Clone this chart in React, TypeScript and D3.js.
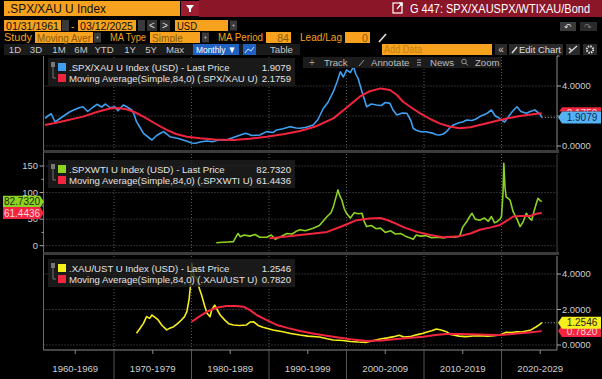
import React from "react";
import * as d3 from "d3";

// ---------- DATA ----------
const decadeLabels = ["1960-1969", "1970-1979", "1980-1989", "1990-1999", "2000-2009", "2010-2019", "2020-2029"];
const decadeStarts = [1960, 1970, 1980, 1990, 2000, 2010, 2020];

const spxXauYears = [1961.1,1961.6,1961.9,1962.4,1962.8,1963.5,1964.2,1964.8,1965.5,1966.0,1966.6,1967.2,1967.8,1968.4,1968.9,1969.5,1970.1,1970.5,1971.2,1971.7,1972.3,1972.6,1972.9,1973.4,1973.8,1974.4,1974.9,1975.5,1976.0,1976.4,1976.8,1977.2,1977.8,1978.3,1978.9,1979.5,1980.0,1980.5,1981.0,1981.5,1982.0,1982.7,1983.5,1984.5,1985.3,1986.3,1987.0,1987.8,1988.8,1989.7,1990.5,1991.0,1991.8,1992.7,1993.5,1994.0,1994.8,1995.7,1996.3,1997.0,1997.6,1998.3,1998.8,1999.2,1999.6,2000.0,2000.5,2000.9,2001.2,2001.5,2002.0,2002.6,2003.2,2003.9,2004.5,2005.0,2005.6,2006.0,2006.5,2007.2,2007.8,2008.3,2008.6,2009.0,2009.5,2010.3,2011.2,2011.6,2012.0,2012.5,2012.9,2013.4,2013.8,2014.5,2015.0,2015.5,2016.2,2016.7,2017.2,2017.8,2018.2,2018.7,2019.2,2019.6,2020.0,2020.4,2020.9,2021.4,2022.0,2022.5,2023.2,2023.7,2024.3,2024.8,2025.0,2025.2];
const spxXauValues = [1.85,2.05,2.15,1.6,1.75,2.0,2.25,2.4,2.55,2.62,2.3,2.55,2.78,2.6,2.8,2.55,2.62,2.35,2.73,2.6,2.4,2.1,1.62,1.2,0.84,0.6,0.4,0.7,0.85,0.96,0.8,0.62,0.55,0.5,0.4,0.3,0.2,0.18,0.25,0.3,0.33,0.28,0.4,0.4,0.55,0.73,0.85,0.7,0.73,0.96,0.9,1.07,1.15,1.29,1.2,1.18,1.25,1.4,1.75,2.5,2.9,3.62,4.3,4.95,4.6,5.07,4.9,5.29,4.8,4.5,3.62,2.62,2.8,2.73,2.7,2.9,2.84,2.4,2.07,2.2,2.18,1.7,1.18,1.05,0.96,0.95,0.84,0.75,0.73,0.8,0.96,1.25,1.4,1.55,1.6,1.73,1.7,1.8,1.96,2.1,2.2,2.4,2.0,1.9,1.73,1.6,1.96,2.3,2.62,2.3,2.18,2.3,2.4,2.2,2.1,1.9079];
const spxXauMaYears = [1961.1,1963,1966,1968,1969.5,1970.5,1971.6,1972.7,1973.8,1975.3,1976.8,1978,1979.4,1981.1,1983,1985.4,1987.5,1989.7,1992,1994,1996,1998.3,2000,2001.7,2003,2004.4,2005.6,2006.5,2007.3,2008.4,2009.5,2010.8,2012,2013.3,2014.6,2016,2017.2,2018.5,2019.8,2021,2022.4,2023.8,2025.2];
const spxXauMaValues = [1.4,1.6,1.96,2.3,2.5,2.53,2.45,2.25,1.96,1.5,1.07,0.8,0.62,0.51,0.43,0.4,0.48,0.62,0.8,1.0,1.3,1.84,2.55,3.29,3.65,3.84,3.73,3.4,2.95,2.55,2.18,1.8,1.51,1.3,1.18,1.25,1.4,1.57,1.73,1.87,2.0,2.1,2.1759];

const spxWtiYears = [1983.2,1984,1984.7,1985.4,1986.0,1986.3,1986.8,1987.5,1988.2,1988.8,1989.7,1990.3,1990.8,1991.5,1992.3,1993,1993.5,1994,1994.7,1995.7,1996.5,1997.5,1998,1998.3,1998.9,1999.1,1999.4,1999.7,2000,2000.5,2001,2001.5,2002,2002.3,2002.6,2003.2,2003.8,2004.4,2005,2005.7,2006.3,2007,2007.6,2008.3,2008.6,2009,2009.5,2010.2,2011,2011.8,2012.5,2013.3,2014,2014.6,2015.0,2015.5,2015.9,2016.2,2016.6,2017.2,2017.8,2018.3,2018.7,2019.1,2019.4,2019.8,2020.0,2020.2,2020.3,2020.45,2020.6,2021.1,2021.5,2022,2022.4,2022.8,2023.2,2023.6,2023.9,2024.2,2024.5,2024.7,2025.0,2025.2];
const spxWtiValues = [5.6,6.5,7,7.6,23,17,20,18,21,16,16,20,12,17,23,22,27,30,28,33,38,55,62,73,105,95,86,70,61,52,62,60,61,45,36,38,32,33,25,28,22,23,18,14,12,20,18,19,15,16,14.5,17,16,18,35,45,55,61,50,48,52,46,55,43,45,50,55,100,155,110,92,86,64,50,36,45,61,52,48,65,80,89,85,82.732];
const spxWtiMaYears = [1990.1,1992,1994,1995.8,1997.5,1999.5,2001.3,2003,2004.4,2005.5,2006.3,2007.5,2009.1,2010.8,2012.5,2014.6,2016,2017.2,2018.5,2019.8,2020.7,2021.5,2022.5,2023.7,2024.5,2025.2];
const spxWtiMaValues = [14,17,20,23,26,37,48,51,52,47,42,34,26,20,16,18,23,30,34,39,47,55,56,56,60,61.4436];

const xauUstYears = [1972.9,1973.3,1973.8,1974.2,1974.6,1974.9,1975.3,1975.7,1976.2,1976.8,1977.2,1977.7,1978.2,1978.7,1979.1,1979.4,1979.7,1979.9,1980.05,1980.3,1980.7,1981.0,1981.3,1981.7,1982.0,1982.4,1982.6,1983.0,1983.3,1983.7,1984.3,1984.8,1985.4,1986.2,1987.1,1987.6,1988.0,1988.6,1989.2,1989.7,1990.5,1991.8,1992.8,1994.0,1995,1996.5,1997.5,1998.3,1999.5,2000.5,2001.5,2002.6,2003.5,2004.5,2005.3,2006.1,2006.8,2007.4,2008.2,2008.8,2009.3,2009.9,2010.5,2011.0,2011.6,2012.2,2012.9,2013.4,2013.8,2014.5,2015.4,2016.3,2017.2,2018.2,2019.0,2019.8,2020.3,2020.6,2021.3,2022.0,2022.6,2023.2,2023.8,2024.5,2024.9,2025.2];
const xauUstValues = [0.66,0.9,1.22,1.6,1.5,1.69,1.55,1.41,1.1,0.85,0.95,1.03,1.2,1.41,1.6,1.88,2.6,3.5,4.6,3.9,3.76,3.2,2.82,2.2,1.79,1.6,1.97,2.25,2.0,1.69,1.4,1.2,1.13,1.1,1.13,1.3,1.31,1.1,1.0,0.94,0.85,0.75,0.65,0.56,0.5,0.45,0.35,0.28,0.25,0.2,0.17,0.15,0.25,0.35,0.4,0.47,0.55,0.45,0.47,0.55,0.6,0.66,0.75,0.8,0.9,0.85,0.75,0.6,0.56,0.5,0.47,0.51,0.52,0.5,0.52,0.56,0.66,0.72,0.7,0.75,0.73,0.79,0.85,1.03,1.15,1.2546];
const xauUstMaYears = [1980.0,1981,1982,1983.2,1984.5,1985.7,1986.7,1987.6,1988.4,1989.7,1991,1992.5,1994,1996,1998.3,2000.5,2002.6,2004.5,2006.1,2008,2009.9,2011.5,2012.9,2014.5,2016.3,2018,2019.8,2021,2022.4,2023.8,2025.2];
const xauUstMaValues = [1.31,1.6,1.88,2.1,2.2,2.2,2.16,1.95,1.69,1.4,1.13,0.95,0.79,0.62,0.47,0.33,0.23,0.26,0.32,0.39,0.47,0.56,0.62,0.62,0.6,0.58,0.56,0.6,0.66,0.72,0.782];

const periodButtons = ["1D", "3D", "1M", "6M", "YTD", "1Y", "5Y", "Max"];
const periodButtonX = [15, 36, 59, 81, 104, 130, 151, 175];

// ---------- STYLE ----------
const FONT = "'Liberation Sans', Arial, sans-serif";
const ORANGE = "#f6a21e";
const DARKRED = "#8a1628";
const BLUE = "#3f9ff0";
const RED = "#f2253f";
const GREEN = "#8cd322";
const YELLOW = "#f5ef1c";
const GRID = "#5a5a5a";
const AXISTXT = "#cfcfcf";

const x = d3.scaleLinear().domain([1960, 2030]).range([36.5, 579]);
const PL = 43.5, PR = 557;

const y1 = d3.scaleLinear().domain([0, 4]).range([146, 86]);
const y2 = d3.scaleLinear().domain([0, 150]).range([245.7, 166]);
const y3 = d3.scaleLinear().domain([0, 4]).range([345, 274]);

function path(xs: number[], vs: number[], ys: d3.ScaleLinear<number, number>) {
  const pts: [number, number][] = xs.map((t, i) => [x(t), ys(vs[i])]);
  return d3.line()(pts) || "";
}

function T({ x0, y0, w, size, fill, children, anchor }: { x0: number; y0: number; w: number; size: number; fill: string; children: string; anchor?: string }) {
  return (
    <text x={x0} y={y0} fill={fill} fontSize={size} fontFamily={FONT} textLength={w} lengthAdjust="spacingAndGlyphs" textAnchor={anchor || "start"}>
      {children}
    </text>
  );
}

function Legend({ y0, rows }: { y0: number; rows: { color: string; label: string; value: string }[] }) {
  return (
    <g>
      <rect x={48} y={y0} width={247} height={28} fill="#1f1f1f" opacity={0.82} />
      <rect x={51} y={y0 + 4} width={4} height={5} fill="#777" />
      <line x1={53} y1={y0 + 9} x2={53} y2={y0 + 20} stroke="#777" strokeWidth={1} />
      <line x1={53} y1={y0 + 20} x2={56} y2={y0 + 20} stroke="#777" strokeWidth={1} />
      {rows.map((r, i) => (
        <g key={i}>
          <rect x={58} y={y0 + 5 + i * 11} width={8} height={8} fill={r.color} />
          <text x={69} y={y0 + 12.5 + i * 11} fill="#e2e2e2" fontSize={9.6} fontFamily={FONT}>{r.label}</text>
          <text x={291} y={y0 + 12.5 + i * 11} fill="#e2e2e2" fontSize={9.6} fontFamily={FONT} textAnchor="end">{r.value}</text>
        </g>
      ))}
    </g>
  );
}

function RightTag({ cy, fill, color, text }: { cy: number; fill: string; color: string; text: string }) {
  const d = `M558,${cy} L562,${cy - 6} L601,${cy - 6} L601,${cy + 6} L562,${cy + 6} Z`;
  return (
    <g>
      <path d={d} fill={fill} />
      <text x={582} y={cy + 3.5} fill={color} fontSize={10} fontFamily={FONT} textAnchor="middle">{text}</text>
    </g>
  );
}

function LeftTag({ cy, fill, color, text }: { cy: number; fill: string; color: string; text: string }) {
  const d = `M44,${cy} L40,${cy - 6} L3,${cy - 6} L3,${cy + 6} L40,${cy + 6} Z`;
  return (
    <g>
      <path d={d} fill={fill} />
      <text x={22} y={cy + 3.5} fill={color} fontSize={10} fontFamily={FONT} textAnchor="middle">{text}</text>
    </g>
  );
}

function Box({ x0, y0, w, h, fill }: { x0: number; y0: number; w: number; h: number; fill: string }) {
  return <rect x={x0} y={y0} width={w} height={h} fill={fill} />;
}

function Drop({ x0, y0 }: { x0: number; y0: number }) {
  return (
    <g>
      <rect x={x0} y={y0} width={7} height={10} fill="#3a3a3a" />
      <circle cx={x0 + 3.5} cy={y0 + 5} r={1} fill="#bbb" />
    </g>
  );
}

export default function App() {
  const decadeX = decadeStarts.map((d) => x(d));
  const vGrid = decadeStarts.slice(1);
  const midTicks = decadeStarts.map((d) => d + 5);

  const panels = [
    { top: 57, bottom: 150, ys: y1, hticks: [0, 2, 4] },
    { top: 154, bottom: 252, ys: y2, hticks: [0, 50, 100, 150] },
    { top: 256, bottom: 350, ys: y3, hticks: [0, 2, 4] },
  ];

  return (
    <svg width={602} height={379} style={{ position: "absolute", left: 0, top: 0, display: "block" }}>
      <defs>
        <clipPath id="c1"><rect x={PL} y={57} width={PR - PL} height={93} /></clipPath>
        <clipPath id="c2"><rect x={PL} y={154} width={PR - PL} height={98} /></clipPath>
        <clipPath id="c3"><rect x={PL} y={256} width={PR - PL} height={94} /></clipPath>
        <clipPath id="redtagvis"><rect x={556} y={100} width={46} height={11.4} /></clipPath>
      </defs>
      <rect x={0} y={0} width={602} height={379} fill="#000" />

      {/* ---------- HEADER ---------- */}
      <rect x={199} y={0} width={403} height={17} fill={DARKRED} />
      <rect x={4} y={1} width={176} height={15} fill={ORANGE} />
      <T x0={7} y0={13} w={99} size={13} fill="#111">.SPX/XAU U Index</T>
      <rect x={181} y={1} width={18} height={15} fill="#9c1c30" />
      <path d="M186,5 L194,5 L191,9 L191,12 L189,12 L189,9 Z" fill="#fff" />
      <rect x={393} y={3} width={9} height={10} fill="none" stroke="#fff" strokeWidth={1.2} />
      <path d="M397,9 L402,3 M399,3 L402,3 L402,6" stroke="#fff" strokeWidth={1.2} fill="none" />
      <T x0={410} y0={13} w={180} size={12.5} fill="#fff">G 447: SPX/XAUSPX/WTIXAU/Bond</T>

      {/* row 2 */}
      <Box x0={4} y0={20} w={57} h={11} fill={ORANGE} />
      <T x0={6} y0={29.5} w={53} size={10.6} fill="#111">01/31/1961</T>
      <rect x={62} y={20} width={7} height={11} fill="#3a3a3a" />
      <text x={71} y={29.5} fill={ORANGE} fontSize={10} fontFamily={FONT}>-</text>
      <Box x0={78} y0={20} w={58} h={11} fill={ORANGE} />
      <T x0={80} y0={29.5} w={53} size={10.6} fill="#111">03/12/2025</T>
      <rect x={138} y={20} width={7} height={11} fill="#3a3a3a" />
      <rect x={147} y={20} width={10} height={11} fill="#333" />
      <text x={152} y={29} fill="#ddd" fontSize={10} fontFamily={FONT} textAnchor="middle">&lt;</text>
      <rect x={160} y={20} width={10} height={11} fill="#333" />
      <text x={165} y={29} fill="#ddd" fontSize={10} fontFamily={FONT} textAnchor="middle">&gt;</text>
      <Box x0={175} y0={20} w={53} h={11} fill={ORANGE} />
      <T x0={177} y0={29.5} w={20} size={10.6} fill="#111">USD</T>
      <Drop x0={230} y0={20.5} />
      <rect x={560} y={22} width={16} height={9} fill="#3a3a3a" />
      <text x={568} y={30} fill="#ddd" fontSize={9} fontFamily={FONT} textAnchor="middle">↶</text>
      <rect x={580} y={22} width={17} height={9} fill="#2a2a2a" />
      <text x={588} y={30} fill="#777" fontSize={9} fontFamily={FONT} textAnchor="middle">↷</text>

      {/* row 3 */}
      <T x0={4} y0={41} w={28} size={11} fill={ORANGE}>Study</T>
      <Box x0={35} y0={32} w={58} h={11} fill={ORANGE} />
      <T x0={37} y0={41.5} w={54} size={10.6} fill="#8b5a08">Moving Aver</T>
      <Drop x0={94} y0={32.5} />
      <T x0={110} y0={41} w={36} size={11} fill={ORANGE}>MA Type</T>
      <Box x0={150} y0={32} w={50} h={11} fill={ORANGE} />
      <T x0={152} y0={41.5} w={31} size={10.6} fill="#8b5a08">Simple</T>
      <Drop x0={202} y0={32.5} />
      <T x0={218} y0={41} w={45} size={11} fill={ORANGE}>MA Period</T>
      <Box x0={266} y0={32} w={25} h={11} fill={ORANGE} />
      <text x={289} y={41.5} fill="#8b5a08" fontSize={10.6} fontFamily={FONT} textAnchor="end">84</text>
      <T x0={300} y0={41} w={42} size={11} fill={ORANGE}>Lead/Lag</T>
      <Box x0={345} y0={32} w={25} h={11} fill={ORANGE} />
      <text x={368} y={41.5} fill="#8b5a08" fontSize={10.6} fontFamily={FONT} textAnchor="end">0</text>
      <path d="M379,42 L386,34" stroke="#ddd" strokeWidth={1.6} />

      {/* row 4 */}
      <rect x={4} y={44} width={296} height={11} fill="#1b1b1b" />
      {periodButtons.map((b, i) => (
        <text key={b} x={periodButtonX[i]} y={53} fill="#c8c8c8" fontSize={9.6} fontFamily={FONT} textAnchor="middle">{b}</text>
      ))}
      <rect x={193} y={44} width={46} height={11} fill="#1f62c2" />
      <T x0={196} y0={53} w={40} size={9.6} fill="#fff">Monthly ▼</T>
      <rect x={243} y={44} width={13} height={11} fill="#1f62c2" />
      <path d="M245,53 L248,49 L251,51 L254,47" stroke="#cfe0ff" strokeWidth={1} fill="none" />
      <text x={270} y={53} fill="#c8c8c8" fontSize={9.6} fontFamily={FONT}>Table</text>
      <Box x0={382} y0={44} w={110} h={11} fill={ORANGE} />
      <T x0={384} y0={53} w={38} size={10} fill="#c98012">Add Data</T>
      <rect x={495} y={44} width={12} height={11} fill="#2a2a2a" />
      <text x={501} y={53} fill="#ccc" fontSize={10} fontFamily={FONT} textAnchor="middle">«</text>
      <rect x={509} y={44} width={54} height={11} fill="#2a2a2a" />
      <path d="M512,53 L517,47" stroke="#ddd" strokeWidth={1.4} />
      <T x0={519} y0={53} w={42} size={9.6} fill="#ddd">Edit Chart</T>
      <rect x={566} y={44} width={14} height={11} fill="#2a2a2a" />
      <path d="M569,53 L577,46 M569,48 L572,51" stroke="#ddd" strokeWidth={1.2} />
      <rect x={583} y={44} width={14} height={11} fill="#2a2a2a" />
      <circle cx={590} cy={49.5} r={3.2} fill="none" stroke="#ddd" strokeWidth={2} strokeDasharray="1.5,1" />

      {/* ---------- PANELS: grid ---------- */}
      {panels.map((p, pi) => (
        <g key={pi}>
          {p.hticks.map((t) => (
            <line key={t} x1={PL} x2={PR} y1={p.ys(t)} y2={p.ys(t)} stroke={GRID} strokeDasharray="1,2" />
          ))}
          {vGrid.map((d) => (
            <line key={d} x1={x(d)} x2={x(d)} y1={p.top} y2={p.bottom} stroke={GRID} strokeDasharray="1,2" />
          ))}
        </g>
      ))}

      {/* frames */}
      <line x1={PL} x2={PL} y1={56} y2={350} stroke="#6a6a6a" strokeWidth={1} />
      <rect x={PL} y={150} width={PR - PL + 2} height={3} fill="#3c3c3c" />
      <rect x={PL} y={252} width={PR - PL + 2} height={3} fill="#3c3c3c" />
      <line x1={PR} x2={PR} y1={56} y2={150} stroke="#8a8a8a" />
      <line x1={PR} x2={PR} y1={154} y2={252} stroke="#444" />
      <line x1={PR} x2={PR} y1={256} y2={350} stroke="#8a8a8a" />

      {/* ---------- LINES ---------- */}
      <g clipPath="url(#c1)" fill="none" strokeLinejoin="round">
        <path d={path(spxXauYears, spxXauValues, y1)} stroke={BLUE} strokeWidth={1.6} />
        <path d={path(spxXauMaYears, spxXauMaValues, y1)} stroke={RED} strokeWidth={2} />
      </g>
      <g clipPath="url(#c2)" fill="none" strokeLinejoin="round">
        <path d={path(spxWtiYears, spxWtiValues, y2)} stroke={GREEN} strokeWidth={1.6} />
        <path d={path(spxWtiMaYears, spxWtiMaValues, y2)} stroke={RED} strokeWidth={2} />
      </g>
      <g clipPath="url(#c3)" fill="none" strokeLinejoin="round">
        <path d={path(xauUstYears, xauUstValues, y3)} stroke={YELLOW} strokeWidth={1.6} />
        <path d={path(xauUstMaYears, xauUstMaValues, y3)} stroke={RED} strokeWidth={2} />
      </g>

      {/* ---------- toolbar in panel 1 ---------- */}
      <rect x={303} y={57} width={198} height={11} fill="#1c1c1c" />
      <text x={309} y={65.5} fill="#999" fontSize={10} fontFamily={FONT}>+</text>
      <text x={324} y={65.5} fill="#bdbdbd" fontSize={9.6} fontFamily={FONT}>Track</text>
      <path d="M359,66 L364,60" stroke="#999" strokeWidth={1} />
      <text x={371} y={65.5} fill="#bdbdbd" fontSize={9.6} fontFamily={FONT}>Annotate</text>
      <path d="M417,60 L421,60 M417,62.5 L421,62.5 M417,65 L421,65" stroke="#999" strokeWidth={1} />
      <text x={430} y={65.5} fill="#bdbdbd" fontSize={9.6} fontFamily={FONT}>News</text>
      <circle cx={464} cy={61.5} r={2.3} fill="none" stroke="#999" strokeWidth={1} />
      <path d="M465.5,63 L468,65.5" stroke="#999" strokeWidth={1} />
      <text x={475} y={65.5} fill="#bdbdbd" fontSize={9.6} fontFamily={FONT}>Zoom</text>

      {/* ---------- legends ---------- */}
      <Legend y0={58} rows={[
        { color: BLUE, label: ".SPX/XAU U Index (USD) - Last Price", value: "1.9079" },
        { color: RED, label: "Moving Average(Simple,84,0) (.SPX/XAU U)", value: "2.1759" },
      ]} />
      <Legend y0={160} rows={[
        { color: GREEN, label: ".SPXWTI U Index (USD) - Last Price", value: "82.7320" },
        { color: RED, label: "Moving Average(Simple,84,0) (.SPXWTI U)", value: "61.4436" },
      ]} />
      <Legend y0={259} rows={[
        { color: YELLOW, label: ".XAU/UST U Index (USD) - Last Price", value: "1.2546" },
        { color: RED, label: "Moving Average(Simple,84,0) (.XAU/UST U)", value: "0.7820" },
      ]} />

      {/* ---------- axes ---------- */}
      {[0, 2, 4, 6].map((t) => (
        <line key={t} x1={PR} x2={PR + (t % 4 === 0 ? 4 : 2.5)} y1={y1(t)} y2={y1(t)} stroke="#aaa" />
      ))}
      {[0, 4].map((t) => (
        <text key={t} x={562} y={y1(t) + 3.3} fill={AXISTXT} fontSize={9.4} fontFamily={FONT}>{t.toFixed(4)}</text>
      ))}
      {[0, 25, 50, 75, 100, 125, 150].map((t) => (
        <line key={t} x1={PL - (t % 50 === 0 ? 4 : 2)} x2={PL} y1={y2(t)} y2={y2(t)} stroke="#aaa" />
      ))}
      {[0, 50, 100, 150].map((t) => (
        <text key={t} x={38} y={y2(t) + 3.3} fill={AXISTXT} fontSize={9.4} fontFamily={FONT} textAnchor="end">{t}</text>
      ))}
      {[0, 2, 4].map((t) => (
        <line key={t} x1={PR} x2={PR + 4} y1={y3(t)} y2={y3(t)} stroke="#aaa" />
      ))}
      {[0, 2, 4].map((t) => (
        <text key={t} x={562} y={y3(t) + 3.3} fill={AXISTXT} fontSize={9.4} fontFamily={FONT}>{t.toFixed(4)}</text>
      ))}

      {/* last value connectors */}
      <line x1={x(2025.2)} x2={PR} y1={y1(1.9079)} y2={y1(1.9079)} stroke="#aaa" strokeDasharray="1,2" />
      <line x1={x(2025.2)} x2={PR} y1={y3(1.2546)} y2={y3(1.2546)} stroke="#aaa" strokeDasharray="1,2" />

      {/* tags */}
      <g clipPath="url(#redtagvis)">
        <RightTag cy={y1(2.1759)} fill={RED} color="#ffd0d6" text="2.1759" />
      </g>
      <RightTag cy={y1(1.9079)} fill="#56b3f3" color="#0b2c5c" text="1.9079" />
      <LeftTag cy={y2(82.732)} fill={GREEN} color="#1a2a00" text="82.7320" />
      <LeftTag cy={y2(61.4436)} fill={RED} color="#ffd6dc" text="61.4436" />
      <RightTag cy={y3(0.782)} fill={RED} color="#ffd0d6" text="0.7820" />
      <RightTag cy={y3(1.2546)} fill={YELLOW} color="#222" text="1.2546" />

      {/* ---------- x axis ---------- */}
      <line x1={PL} x2={PR} y1={350} y2={350} stroke="#8a8a8a" />
      {vGrid.map((d) => (
        <line key={d} x1={x(d)} x2={x(d)} y1={350} y2={379} stroke="#555" />
      ))}
      {midTicks.map((d) => (
        <line key={d} x1={x(d)} x2={x(d)} y1={350} y2={354} stroke="#888" />
      ))}
      {decadeLabels.map((l, i) => (
        <text key={l} x={decadeX[i] + 38.75} y={372} fill={AXISTXT} fontSize={9.6} fontFamily={FONT} textAnchor="middle">{l}</text>
      ))}
    </svg>
  );
}
